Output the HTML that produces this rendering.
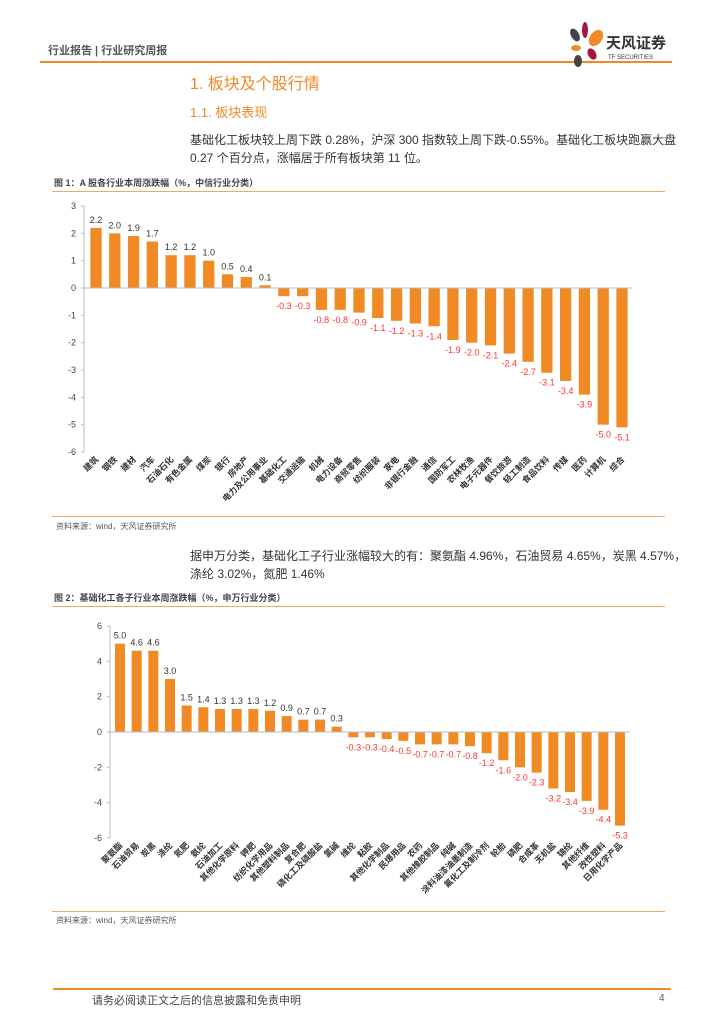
<!DOCTYPE html>
<html><head><meta charset="utf-8">
<style>
body{margin:0;width:724px;height:1024px;background:#fff;position:relative;font-family:"Liberation Sans","Noto Sans CJK SC",sans-serif;overflow:hidden}
.a{position:absolute;white-space:nowrap}
</style></head><body>
<div class="a" style="left:48px;top:42px;font-size:11px;font-weight:bold;color:#555">行业报告 | 行业研究周报</div>
<div class="a" style="left:40px;top:61px;width:632px;height:2px;background:#f08a28"></div>
<svg class="a" style="left:566px;top:20px" width="110" height="48">
<ellipse cx="9" cy="15" rx="4" ry="7" fill="#444" transform="rotate(-30 9 15)"/>
<ellipse cx="19" cy="10" rx="3" ry="8" fill="#a3193c"/>
<ellipse cx="30" cy="18" rx="6" ry="9" fill="#f08a28" transform="rotate(35 30 18)"/>
<ellipse cx="10" cy="28" rx="5" ry="3" fill="#f08a28"/>
<ellipse cx="26" cy="34" rx="4" ry="6" fill="#a3193c" transform="rotate(-30 26 34)"/>
<ellipse cx="12" cy="41" rx="4" ry="6" fill="#444"/>
<text x="40" y="28" font-size="15" font-weight="bold" fill="#333" font-family="Noto Sans CJK SC,sans-serif">天风证券</text>
<text x="42" y="39" font-size="6" fill="#333" font-family="Liberation Sans,sans-serif">TF SECURITIES</text>
</svg>
<div class="a" style="left:190px;top:70px;font-size:16px;color:#f08a28">1. 板块及个股行情</div>
<div class="a" style="left:190px;top:102px;font-size:13px;color:#f08a28">1.1. 板块表现</div>
<div class="a" style="left:190px;top:131px;font-size:12px;line-height:18px;color:#333">基础化工板块较上周下跌 0.28%，沪深 300 指数较上周下跌-0.55%。基础化工板块跑赢大盘<br>0.27 个百分点，涨幅居于所有板块第 11 位。</div>
<div class="a" style="left:54px;top:176px;font-size:9px;font-weight:bold;color:#444">图 1：A 股各行业本周涨跌幅（%，中信行业分类）</div>
<div class="a" style="left:52px;top:191px;width:613px;height:1px;background:#f4a764"></div>
<svg id="c1" class="a" style="left:0;top:195px" width="724" height="322"></svg>
<div class="a" style="left:52px;top:516px;width:613px;height:1px;background:#f4a764"></div>
<div class="a" style="left:56px;top:521px;font-size:8px;color:#555">资料来源：wind，天风证券研究所</div>
<div class="a" style="left:190px;top:547px;font-size:12px;line-height:18px;color:#333">据申万分类，基础化工子行业涨幅较大的有：聚氨酯 4.96%，石油贸易 4.65%，炭黑 4.57%，<br>涤纶 3.02%，氮肥 1.46%</div>
<div class="a" style="left:54px;top:591px;font-size:9px;font-weight:bold;color:#444">图 2：基础化工各子行业本周涨跌幅（%，申万行业分类）</div>
<div class="a" style="left:52px;top:606px;width:613px;height:1px;background:#f4a764"></div>
<svg id="c2" class="a" style="left:0;top:610px" width="724" height="300"></svg>
<div class="a" style="left:52px;top:911px;width:613px;height:1px;background:#f4a764"></div>
<div class="a" style="left:56px;top:915px;font-size:8px;color:#555">资料来源：wind，天风证券研究所</div>
<div class="a" style="left:53px;top:988px;width:618px;height:2px;background:#f08a28"></div>
<div class="a" style="left:92px;top:992px;font-size:11px;color:#444">请务必阅读正文之后的信息披露和免责申明</div>
<div class="a" style="left:659px;top:993px;font-size:10px;color:#555">4</div>
<script>
const cats1=["建筑","钢铁","建材","汽车","石油石化","有色金属","煤炭","银行","房地产","电力及公用事业","基础化工","交通运输","机械","电力设备","商贸零售","纺织服装","家电","非银行金融","通信","国防军工","农林牧渔","电子元器件","餐饮旅游","轻工制造","食品饮料","传媒","医药","计算机","综合"];
const vals1=[2.2,2.0,1.9,1.7,1.2,1.2,1.0,0.5,0.4,0.1,-0.3,-0.3,-0.8,-0.8,-0.9,-1.1,-1.2,-1.3,-1.4,-1.9,-2.0,-2.1,-2.4,-2.7,-3.1,-3.4,-3.9,-5.0,-5.1];
const ticks1=[3,2,1,0,-1,-2,-3,-4,-5,-6];
const cats2=["聚氨酯","石油贸易","炭黑","涤纶","氮肥","氨纶","石油加工","其他化学原料","钾肥","纺织化学用品","其他塑料制品","复合肥","磷化工及磷酸盐","氯碱","维纶","粘胶","其他化学制品","民爆用品","农药","其他橡胶制品","纯碱","涂料油漆油墨制造","氟化工及制冷剂","轮胎","磷肥","合成革","无机盐","锦纶","其他纤维","改性塑料","日用化学产品"];
const vals2=[5.0,4.6,4.6,3.0,1.5,1.4,1.3,1.3,1.3,1.2,0.9,0.7,0.7,0.3,-0.3,-0.3,-0.4,-0.5,-0.7,-0.7,-0.7,-0.8,-1.2,-1.6,-2.0,-2.3,-3.2,-3.4,-3.9,-4.4,-5.3];
const ticks2=[6,4,2,0,-2,-4,-6];
const NS="http://www.w3.org/2000/svg";
function mk(p,t,a){const e=document.createElementNS(NS,t);for(const k in a)e.setAttribute(k,a[k]);p.appendChild(e);return e;}
function draw(id,cats,vals,ticks,o){
 const svg=document.getElementById(id);
 const ymax=ticks[0],ymin=ticks[ticks.length-1];
 const y=v=>o.top+(ymax-v)/(ymax-ymin)*(o.bot-o.top);
 const step=(o.x1-o.x0)/(cats.length-1);
 const x=i=>o.x0+i*step;
 const ax=mk(svg,'line',{x1:o.ax,y1:o.top,x2:o.ax,y2:o.bot,stroke:'#bbb'});
 
 
 ticks.forEach(t=>{
  const tl=mk(svg,'text',{x:o.ax-8,y:y(t)+3,'font-size':9,'text-anchor':'end',fill:'#444'});
  tl.textContent=t;
  
  
  mk(svg,'line',{x1:o.ax-3,y1:y(t),x2:o.ax,y2:y(t),stroke:'#bbb'});
 });
 const bw=step*0.6;
 vals.forEach((v,i)=>{
  const r=mk(svg,'rect',{x:x(i)-bw/2,y:Math.min(y(v),y(0)),width:bw,height:Math.abs(y(v)-y(0)),fill:'#f08a24'});
  
  
  const lt=mk(svg,'text',{x:x(i),y:v>=0?y(v)-5:y(v)+13,'font-size':9,'text-anchor':'middle',fill:v>=0?'#333':'#f33'});
  lt.textContent=v.toFixed(1);
  
  
  const ct=mk(svg,'text',{x:x(i)+3,y:o.bot+8,'font-size':8.5,'text-anchor':'end',fill:'#333','font-weight':'bold',transform:`rotate(-45 ${x(i)+3} ${o.bot+8})`});
  ct.textContent=cats[i];
  
  
 });
 const zl=mk(svg,'line',{x1:o.ax,y1:y(0),x2:o.axEnd,y2:y(0),stroke:'#bbb'});
 
 
}
draw('c1',cats1,vals1,ticks1,{top:11,bot:257,ax:84,x0:96,x1:622,axEnd:632});
draw('c2',cats2,vals2,ticks2,{top:16,bot:228,ax:110,x0:120,x1:620,axEnd:630});
</script>
</body></html>
